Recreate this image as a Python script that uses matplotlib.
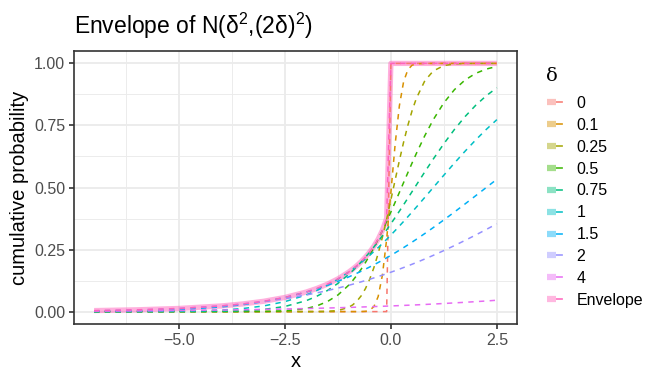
import numpy as np
import matplotlib
matplotlib.use("Agg")
import matplotlib.pyplot as plt
from matplotlib.lines import Line2D
from matplotlib.legend_handler import HandlerTuple

plt.rcParams['font.family'] = ['Liberation Sans', 'DejaVu Sans']
plt.rcParams['mathtext.default'] = 'regular'

# x grid (shared by all curves)
x = [-7, -6, -5, -4, -3.5, -3, -2.5, -2, -1.75, -1.5, -1.25, -1,
     -0.9, -0.8, -0.7, -0.6, -0.5, -0.4, -0.3, -0.2, -0.1, 0,
     0.1, 0.2, 0.3, 0.4, 0.5, 0.6, 0.8, 1.0, 1.25, 1.5, 1.75, 2.0, 2.25, 2.5]

labels = ['0', '0.1', '0.25', '0.5', '0.75', '1', '1.5', '2', '4', 'Envelope']
colors = ['#F8766D', '#D89000', '#A3A500', '#39B600', '#00BF7D',
          '#00BFC4', '#00B0F6', '#9590FF', '#E76BF3', '#FF62BC']

d0 = [0]*21 + [1]*15
d01 = [0, 0, 0, 0, 0, 0, 0, 0, 0, 0, 0, 0,
       0, 0.0000, 0.0002, 0.0011, 0.0054, 0.0202, 0.0606, 0.1469, 0.2912, 0.4801,
       0.6736, 0.8289, 0.9265, 0.9744, 0.9929, 0.9984, 1.0, 1.0, 1.0, 1.0, 1.0, 1.0, 1.0, 1.0]
d025 = [0, 0, 0, 0, 0, 0, 0, 0.0000, 0.0001, 0.0009, 0.0043, 0.0168,
        0.0271, 0.0423, 0.0636, 0.0926, 0.1303, 0.1775, 0.2342, 0.2998, 0.3726, 0.4503,
        0.5299, 0.6083, 0.6826, 0.7502, 0.8092, 0.8588, 0.9299, 0.9696, 0.9912, 0.9980,
        0.9996, 1.0, 1.0, 1.0]
d05 = [0, 0, 0, 0.0000, 0.0001, 0.0006, 0.0030, 0.0122, 0.0228, 0.0401, 0.0668, 0.1056,
       0.1251, 0.1469, 0.1711, 0.1977, 0.2266, 0.2578, 0.2912, 0.3264, 0.3632, 0.4013,
       0.4404, 0.4801, 0.5199, 0.5596, 0.5987, 0.6368, 0.7088, 0.7734, 0.8413, 0.8944,
       0.9332, 0.9599, 0.9772, 0.9878]
d075 = [0, 0.0000, 0.0001, 0.0012, 0.0034, 0.0088, 0.0206, 0.0438, 0.0616, 0.0846, 0.1135, 0.1488,
        0.1648, 0.1819, 0.2000, 0.2192, 0.2394, 0.2606, 0.2827, 0.3056, 0.3293, 0.3538,
        0.3789, 0.4045, 0.4305, 0.4569, 0.4834, 0.5100, 0.5629, 0.6147, 0.6765, 0.7340,
        0.7858, 0.8311, 0.8697, 0.9018]
d1 = [0.0000, 0.0002, 0.0013, 0.0062, 0.0122, 0.0228, 0.0401, 0.0668, 0.0846, 0.1056, 0.1303, 0.1587,
      0.1711, 0.1841, 0.1977, 0.2119, 0.2266, 0.2420, 0.2578, 0.2743, 0.2912, 0.3085,
      0.3264, 0.3446, 0.3632, 0.3821, 0.4013, 0.4207, 0.4602, 0.5000, 0.5497, 0.5987,
      0.6462, 0.6915, 0.7340, 0.7734]
d15 = [0.0010, 0.0030, 0.0078, 0.0186, 0.0276, 0.0401, 0.0567, 0.0783, 0.0912, 0.1056, 0.1216, 0.1393,
       0.1469, 0.1546, 0.1628, 0.1711, 0.1797, 0.1886, 0.1977, 0.2071, 0.2167, 0.2266,
       0.2367, 0.2472, 0.2578, 0.2687, 0.2798, 0.2912, 0.3145, 0.3385, 0.3694, 0.4013,
       0.4338, 0.4668, 0.5000, 0.5332]
d2 = [0.0030, 0.0062, 0.0122, 0.0228, 0.0304, 0.0401, 0.0521, 0.0668, 0.0753, 0.0846, 0.0947, 0.1056,
      0.1103, 0.1151, 0.1200, 0.1251, 0.1303, 0.1357, 0.1412, 0.1469, 0.1527, 0.1587,
      0.1648, 0.1711, 0.1775, 0.1841, 0.1908, 0.1977, 0.2119, 0.2266, 0.2459, 0.2660,
      0.2869, 0.3085, 0.3309, 0.3538]
d4 = [0.0020, 0.0030, 0.0043, 0.0062, 0.0074, 0.0088, 0.0104, 0.0122, 0.0133, 0.0144, 0.0155, 0.0168,
      0.0173, 0.0179, 0.0184, 0.0190, 0.0196, 0.0202, 0.0208, 0.0214, 0.0221, 0.0228,
      0.0234, 0.0241, 0.0249, 0.0256, 0.0263, 0.0271, 0.0287, 0.0304, 0.0326, 0.0350,
      0.0375, 0.0401, 0.0427, 0.0458]
envelope = [0.0041, 0.0072, 0.0127, 0.0228, 0.0307, 0.0416, 0.0569, 0.0786, 0.0930, 0.1103, 0.1318, 0.1587,
            0.1714, 0.1855, 0.2014, 0.2193, 0.2398, 0.2635, 0.2920, 0.3274, 0.3759, 1.0,
            1.0, 1.0, 1.0, 1.0, 1.0, 1.0, 1.0, 1.0, 1.0, 1.0, 1.0, 1.0, 1.0, 1.0]

series = [d0, d01, d025, d05, d075, d1, d15, d2, d4, envelope]

fig = plt.figure(figsize=(6.64, 3.8), dpi=100)
ax = fig.add_axes([74/664, 56/380, 443/664, 273/380])

dash = (0, (3.5, 3.5))
ax.plot(x, envelope, color=colors[-1], lw=3.8, alpha=0.5, solid_capstyle='butt', zorder=2)
for ys, c in zip(series, colors):
    ax.plot(x, ys, color=c, lw=1.1, linestyle=dash, zorder=3)

ax.set_xlim(-7.475, 2.975)
ax.set_ylim(-0.05, 1.05)
ax.set_xticks([-5.0, -2.5, 0.0, 2.5])
ax.set_xticklabels(['\u22125.0', '\u22122.5', '0.0', '2.5'])
ax.set_xticks([-6.25, -3.75, -1.25, 1.25], minor=True)
ax.set_yticks([0, 0.25, 0.5, 0.75, 1.0])
ax.set_yticklabels(['0.00', '0.25', '0.50', '0.75', '1.00'])
ax.set_yticks([0.125, 0.375, 0.625, 0.875], minor=True)
ax.grid(True, which='major', color='#EBEBEB', lw=1.3)
ax.grid(True, which='minor', color='#EBEBEB', lw=0.65)
ax.set_axisbelow(True)
for s in ax.spines.values():
    s.set_color('#333333')
    s.set_linewidth(1.2)
ax.tick_params(which='major', length=3.8, width=1.2, color='#333333',
               labelsize=11.5, labelcolor='#4D4D4D', pad=2.5)
ax.tick_params(which='minor', length=0)

ax.set_xlabel('x', fontsize=14.5, labelpad=3)
ax.set_ylabel('cumulative probability', fontsize=14.5, labelpad=4)
fig.text(74/664, 1 - 26/380, 'Envelope of N(\u03b4$^{2}$,(2\u03b4)$^{2}$)', fontsize=16.5,
         ha='left', va='center')

# legend title and keys
fig.text(546/664, 1 - 76/380, '\u03b4', fontsize=14, family=['DejaVu Serif'],
         ha='left', va='center')
handles = []
for c in colors:
    band = Line2D([], [], color=c, lw=4.5, alpha=0.45, solid_capstyle='butt')
    dl = Line2D([], [], color=c, lw=1.1, linestyle=(0, (4.5, 2.5)))
    handles.append((band, dl))
leg = fig.legend(handles, labels, handler_map={tuple: HandlerTuple(ndivide=None, pad=0)},
                 loc='upper left', bbox_to_anchor=(547/664, 1 - 96/380),
                 frameon=False, fontsize=11.5,
                 handlelength=1.15, handletextpad=0.7, labelspacing=0.43,
                 borderaxespad=0, borderpad=0)

fig.savefig('out.png', dpi=100)
